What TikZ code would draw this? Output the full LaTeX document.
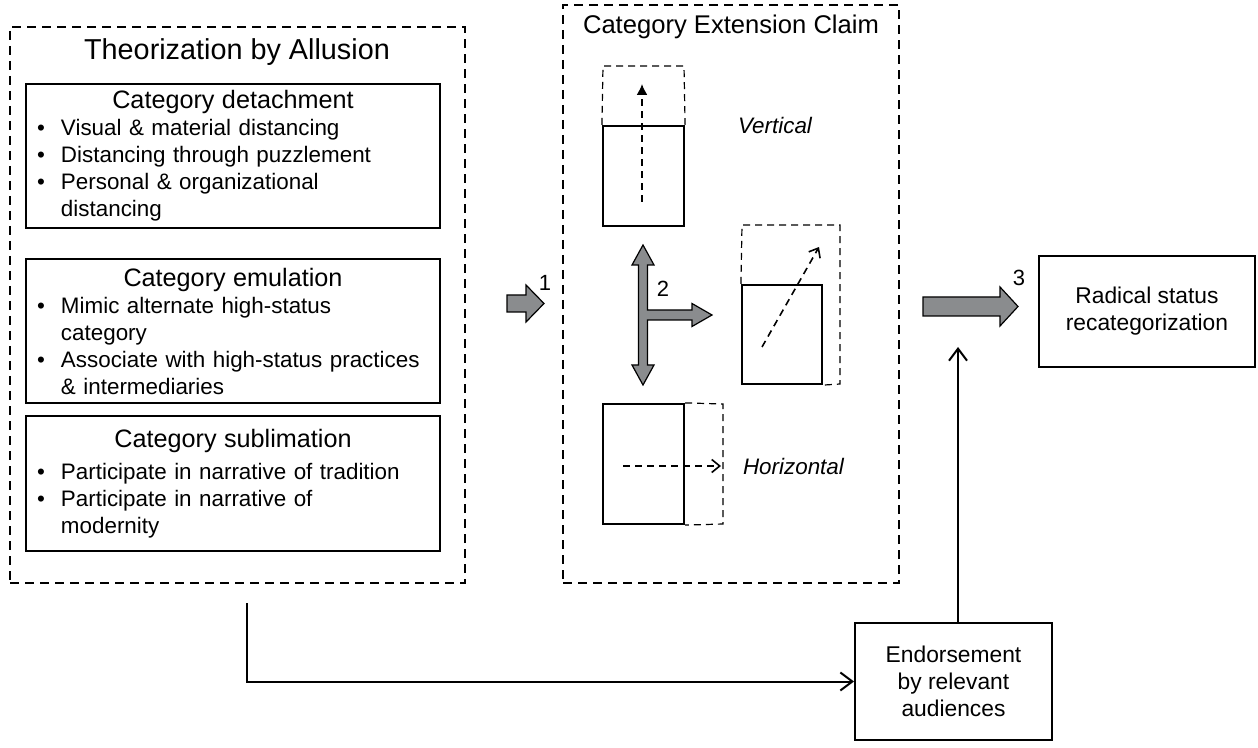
\documentclass[tikz,border=0pt]{standalone}
\usepackage{fontspec}
\setmainfont{Liberation Sans}
\usetikzlibrary{arrows, arrows.meta}
\definecolor{blockgray}{RGB}{138,140,142}
\newcommand{\bitem}[1]{\par\noindent\hangindent=12pt\hangafter=1\makebox[12pt][l]{\textbullet}#1\par}
\newcommand{\nl}{\hfil\break}
\newcommand{\cathead}[1]{{\centering\fontsize{12.6}{14}\selectfont #1\par}}
\tikzset{
    groupbox/.style={draw, dash pattern=on 4.5pt off 3pt, line width=0.7pt, inner sep=0pt},
    catbox/.style={draw, line width=1pt, text width=196pt, inner xsep=5.5pt, align=left,
        font=\fontsize{11.2}{13.5}\selectfont},
    outbox/.style={draw, line width=1pt, align=center, font=\fontsize{11.4}{13.4}\selectfont},
    sq/.style={draw, line width=1.1pt},
    ext/.style={dash pattern=on 3.5pt off 2.5pt, line width=0.6pt},
    dedge/.style={-{Latex[length=5.5pt, width=5.5pt]}, dash pattern=on 3.5pt off 2.5pt, line width=0.8pt},
    oedge/.style={-{Straight Barb[length=4pt, width=6.5pt]}, dash pattern=on 3.5pt off 2.5pt, line width=0.8pt},
    link/.style={-{Straight Barb[length=6pt, width=9pt]}, line width=1pt},
    block/.style={fill=blockgray, draw=black, line width=0.6pt, line join=miter},
    num/.style={font=\fontsize{11}{13}\selectfont},
    kind/.style={anchor=west, font=\fontsize{11.2}{13}\selectfont\itshape},
}

\begin{document}
\begin{tikzpicture}[x=0.5pt, y=-0.5pt]
    \useasboundingbox (0,0) rectangle (1258,748);
    \node[groupbox, minimum width=227.5pt, minimum height=278pt] (allusion) at (237.5,305) {};
    \node[font=\fontsize{14.4}{17}\selectfont] (allusiontitle) at (237,52) {Theorization by Allusion};
    \node[catbox, minimum height=70pt] (detach) at (233,156) {\cathead{Category detachment}%
        \bitem{Visual \& material distancing}%
        \bitem{Distancing through puzzlement}%
        \bitem{Personal \& organizational\nl distancing}};
    \node[catbox, minimum height=72pt] (emul) at (233,331) {\cathead{Category emulation}%
        \bitem{Mimic alternate high-status\nl category}%
        \bitem{Associate with high-status practices\nl \& intermediaries}};
    \node[catbox, minimum height=67.5pt] (sublim) at (233,483.5) {\cathead{Category sublimation}\vspace{2.5pt}%
        \bitem{Participate in narrative of tradition}%
        \bitem{Participate in narrative of\nl modernity}};

    \node[groupbox, minimum width=168pt, minimum height=289pt] (claim) at (731,294) {};
    \node[font=\fontsize{12.8}{15}\selectfont] (claimtitle) at (731,27) {Category Extension Claim};

    \draw[block] (507,295) -- (526,295) -- (526,285) -- (544,303.5) -- (526,322) -- (526,312) -- (507,312) -- cycle;
    \node[num] (one) at (545,283) {1};

    \node[sq, minimum width=40.5pt, minimum height=50pt] (vert) at (643.5,176) {};
    \draw[ext] (vert.north west) -- (603,66) -- (684,66) -- (vert.north east);
    \draw[dedge] (642,202) -- (642,84);
    \node[kind] (vertlabel) at (731,125) {Vertical};

    \draw[block] (643,245) -- (654,265) -- (647.5,265) -- (647.5,310) -- (692,310) -- (692,303.5)
        -- (712,315) -- (692,326.5) -- (692,320) -- (647.5,320) -- (647.5,365) -- (654,365)
        -- (643,385) -- (632,365) -- (638.5,365) -- (638.5,265) -- (632,265) -- cycle;
    \node[num] (two) at (663,289) {2};

    \node[sq, minimum width=40pt, minimum height=49.5pt] (diag) at (782,334.5) {};
    \draw[ext] (diag.north west) -- (742,225) -- (840,225) -- (840,384) -- (diag.south east);
    \draw[oedge] (762,347) -- (819,247);

    \node[sq, minimum width=40.5pt, minimum height=60pt] (horiz) at (643.5,464) {};
    \draw[ext] (horiz.north east) -- (723,404) -- (723,524) -- (horiz.south east);
    \draw[oedge] (623,466) -- (721,466);
    \node[kind] (horizlabel) at (736,466) {Horizontal};

    \draw[block] (923,297) -- (1000,297) -- (1000,287) -- (1018,306.5) -- (1000,326) -- (1000,316) -- (923,316) -- cycle;
    \node[num] (three) at (1019,278) {3};

    \node[outbox, minimum width=108pt, minimum height=55.5pt] (radical) at (1147,311.5) {Radical status\\recategorization};
    \node[outbox, minimum width=98.5pt, minimum height=58.5pt] (endorse) at (953.5,681.5) {Endorsement\\by relevant\\audiences};

    \coordinate (lstart) at (247,603);
    \coordinate (etip) at (958,347);
    \draw[link] (lstart) |- (endorse.west);
    \draw[link] (endorse.north -| etip) -- (etip);
\end{tikzpicture}
\end{document}
